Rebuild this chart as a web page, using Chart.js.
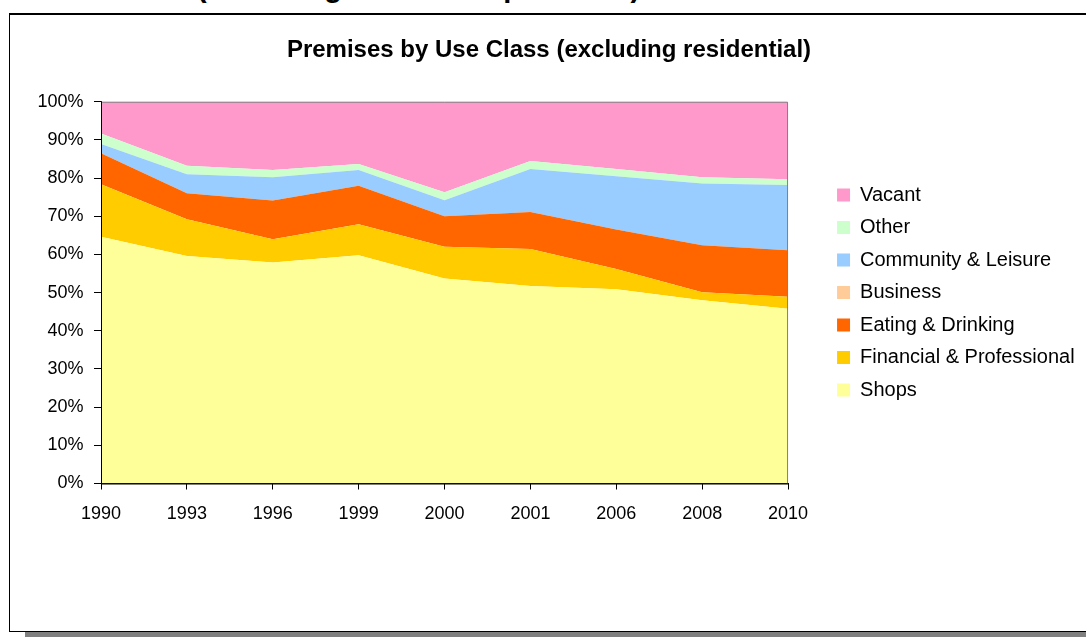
<!DOCTYPE html>
<html>
<head>
<meta charset="utf-8">
<script src="https://cdn.jsdelivr.net/npm/chart.js@4.4.1/dist/chart.umd.min.js"></script>
<style>
  html, body { margin: 0; padding: 0; background: #fff; overflow: hidden; }
  body { width: 1086px; height: 637px; position: relative; font-family: Arial, "Liberation Sans", sans-serif; }
  .heading { position: absolute; left: 197px; top: -27px; font-size: 29px; line-height: 29px; font-weight: bold; white-space: nowrap; color: #000; }
  .frame { position: absolute; left: 9px; top: 13px; width: 1100px; height: 616px; border-top: 2px solid #000; border-left: 1px solid #000; border-bottom: 1px solid #000; background: #fff; }
  .shadow { position: absolute; left: 25px; top: 632px; width: 1100px; height: 10px; background: #808080; }
  #wrap { position: absolute; left: 0; top: 0; width: 1086px; height: 637px; }
</style>
</head>
<body>
<div class="heading">(excluding residential premises)</div>
<div class="shadow"></div>
<div class="frame"></div>
<div id="wrap"><canvas id="useClassChart"></canvas></div>
<script>
// share of premises per use class, % of all non-residential units
const years = ['1990', '1993', '1996', '1999', '2000', '2001', '2006', '2008', '2010'];
const shops = [64.6, 59.6, 57.9, 59.8, 53.7, 51.7, 50.9, 48.0, 45.8];
const financial = [13.8, 9.6, 6.1, 8.1, 8.3, 9.7, 5.3, 2.1, 3.1];
const eating = [8.1, 6.8, 10.1, 10.1, 8.0, 9.7, 10.3, 12.3, 12.2];
const business = [0, 0, 0, 0, 0, 0, 0, 0, 0];
const community = [2.4, 5.0, 6.1, 4.1, 4.2, 11.3, 14.0, 16.2, 17.1];
const other = [2.8, 2.2, 1.9, 1.6, 2.1, 2.1, 1.9, 1.6, 1.5];
const vacant = [8.3, 16.8, 17.9, 16.3, 23.7, 15.5, 17.6, 19.8, 20.3];
const yTicks = [0, 10, 20, 30, 40, 50, 60, 70, 80, 90, 100];

const FONT = 'Arial, "Liberation Sans", sans-serif';

function area(label, data, color, fill) {
  return {
    label: label,
    data: data,
    backgroundColor: color,
    borderColor: color,
    borderWidth: 0,
    pointRadius: 0,
    pointHoverRadius: 0,
    tension: 0,
    fill: fill
  };
}

// grey plot-area frame, with the axis lines redrawn on top of the fills
const plotFrame = {
  id: 'plotFrame',
  afterDatasetsDraw(chart) {
    const {ctx, chartArea: a} = chart;
    ctx.save();
    ctx.lineWidth = 1;
    ctx.strokeStyle = '#808080';
    ctx.beginPath();
    ctx.moveTo(a.left, a.top + 0.5);
    ctx.lineTo(a.right - 0.5, a.top + 0.5);
    ctx.lineTo(a.right - 0.5, a.bottom);
    ctx.stroke();
    ctx.strokeStyle = '#000';
    ctx.beginPath();
    ctx.moveTo(a.left + 0.5, a.top);
    ctx.lineTo(a.left + 0.5, a.bottom + 0.5);
    ctx.lineTo(a.right, a.bottom + 0.5);
    ctx.stroke();
    ctx.restore();
  }
};

const ctx = document.getElementById('useClassChart').getContext('2d');
new Chart(ctx, {
  type: 'line',
  data: {
    labels: years,
    datasets: [
      area('Shops', shops, '#FFFF99', 'origin'),
      area('Financial & Professional', financial, '#FFCC00', '-1'),
      area('Eating & Drinking', eating, '#FF6600', '-1'),
      area('Business', business, '#FFCC99', '-1'),
      area('Community & Leisure', community, '#99CCFF', '-1'),
      area('Other', other, '#CCFFCC', '-1'),
      area('Vacant', vacant, '#FF99CC', '-1')
    ]
  },
  options: {
    responsive: true,
    maintainAspectRatio: false,
    animation: false,
    events: [],
    layout: { padding: { left: 13.4, right: 1.4, top: 0, bottom: 103.5 } },
    plugins: {
      title: {
        display: true,
        text: 'Premises by Use Class (excluding residential)',
        color: '#000',
        font: { family: FONT, size: 24, weight: 'bold' },
        padding: { top: 35.6, bottom: 37.3 }
      },
      legend: {
        display: true,
        position: 'right',
        fullSize: false,
        reverse: true,
        maxWidth: 400,
        labels: {
          color: '#000',
          font: { family: FONT, size: 20 },
          boxWidth: 13,
          boxHeight: 13,
          padding: 12.5
        }
      },
      tooltip: { enabled: false }
    },
    scales: {
      x: {
        offset: false,
        grid: { display: true, drawOnChartArea: false, drawTicks: true, tickLength: 6, color: '#000' },
        border: { display: true, color: '#000' },
        ticks: { color: '#000', font: { family: FONT, size: 18 }, padding: 14, maxRotation: 0, autoSkip: false },
        afterFit: s => { s.height = 50; }
      },
      y: {
        stacked: true,
        min: 0,
        max: 100,
        afterBuildTicks: s => { s.ticks = yTicks.map(v => ({ value: v })); },
        grid: { display: true, drawOnChartArea: false, drawTicks: true, tickLength: 7, color: '#000' },
        border: { display: true, color: '#000' },
        ticks: { color: '#000', font: { family: FONT, size: 18 }, padding: 10.5, callback: v => v + '%' },
        afterFit: s => { s.width = 87.6; }
      },
      gap: {
        type: 'linear',
        position: 'right',
        display: true,
        grid: { display: false },
        border: { display: false },
        ticks: { display: false },
        afterFit: s => { s.width = 36.5; }
      }
    }
  },
  plugins: [plotFrame]
});
</script>
</body>
</html>
